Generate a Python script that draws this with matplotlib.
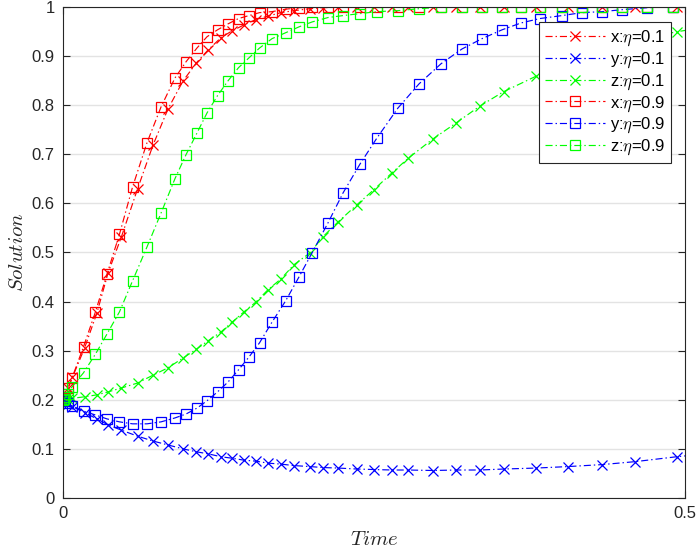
import matplotlib
matplotlib.use("Agg")
import matplotlib.pyplot as plt

plt.rcParams['font.family'] = ['Liberation Sans', 'DejaVu Sans']
plt.rcParams['mathtext.fontset'] = 'cm'

# time grid and solutions, eta = 0.1 (x markers)
t_eta01 = [0, 0.0008, 0.002, 0.004, 0.0076, 0.0173, 0.0273, 0.0362, 0.0470, 0.0599,
           0.0723, 0.0844, 0.0965, 0.1073, 0.1166, 0.1270, 0.1359, 0.1455, 0.1551, 0.1648,
           0.1752, 0.1857, 0.1985, 0.2090, 0.2211, 0.2363, 0.2496, 0.2645, 0.2777, 0.2974,
           0.3163, 0.3352, 0.3541, 0.3806, 0.4059, 0.4333, 0.4598, 0.4932, 0.5257]
x_eta01 = [0.2, 0.205, 0.212, 0.224, 0.246, 0.305, 0.377, 0.458, 0.532, 0.629,
           0.718, 0.792, 0.849, 0.886, 0.912, 0.937, 0.951, 0.963, 0.974, 0.981,
           0.988, 0.992, 0.996, 0.998, 0.999, 1.0, 1.0, 1.0, 1.0, 1.0,
           1.0, 1.0, 1.0, 1.0, 1.0, 1.0, 1.0, 1.0, 1.0]
y_eta01 = [0.2, 0.198, 0.196, 0.192, 0.186, 0.174, 0.161, 0.149, 0.138, 0.126,
           0.116, 0.108, 0.100, 0.094, 0.090, 0.084, 0.081, 0.077, 0.075, 0.071,
           0.069, 0.066, 0.064, 0.062, 0.061, 0.059, 0.058, 0.057, 0.057, 0.056,
           0.057, 0.057, 0.059, 0.061, 0.064, 0.068, 0.074, 0.084, 0.092]
z_eta01 = [0.2, 0.2, 0.201, 0.202, 0.203, 0.206, 0.210, 0.216, 0.224, 0.234,
           0.250, 0.265, 0.285, 0.303, 0.320, 0.338, 0.358, 0.379, 0.399, 0.424,
           0.446, 0.475, 0.499, 0.532, 0.562, 0.597, 0.627, 0.662, 0.692, 0.731,
           0.764, 0.798, 0.827, 0.859, 0.886, 0.910, 0.931, 0.949, 0.962]

# time grid and solutions, eta = 0.9 (square markers)
t_eta09 = [0, 0.0008, 0.002, 0.004, 0.0072, 0.0165, 0.0261, 0.0354, 0.0454, 0.0559,
           0.0675, 0.0788, 0.0900, 0.0989, 0.1077, 0.1158, 0.1242, 0.1326, 0.1411, 0.1495,
           0.1580, 0.1680, 0.1789, 0.1897, 0.2002, 0.2130, 0.2251, 0.2388, 0.2524, 0.2693,
           0.2862, 0.3039, 0.3207, 0.3368, 0.3529, 0.3682, 0.3834, 0.4011, 0.4172, 0.4333,
           0.4494, 0.4695, 0.4904, 0.5121]
x_eta09 = [0.2, 0.205, 0.212, 0.223, 0.244, 0.308, 0.379, 0.456, 0.537, 0.633,
           0.723, 0.796, 0.855, 0.888, 0.916, 0.939, 0.953, 0.965, 0.976, 0.982,
           0.988, 0.990, 0.995, 0.998, 0.999, 1.0, 1.0, 1.0, 1.0, 1.0,
           1.0, 1.0, 1.0, 1.0, 1.0, 1.0, 1.0, 1.0, 1.0, 1.0,
           1.0, 1.0, 1.0, 1.0]
y_eta09 = [0.2, 0.199, 0.197, 0.193, 0.188, 0.177, 0.169, 0.161, 0.155, 0.151,
           0.151, 0.155, 0.163, 0.171, 0.183, 0.198, 0.216, 0.236, 0.261, 0.287,
           0.316, 0.358, 0.401, 0.450, 0.499, 0.560, 0.621, 0.680, 0.733, 0.794,
           0.843, 0.884, 0.914, 0.935, 0.953, 0.967, 0.976, 0.982, 0.988, 0.990,
           0.994, 0.998, 1.0, 1.0]
z_eta09 = [0.2, 0.202, 0.205, 0.212, 0.226, 0.255, 0.293, 0.334, 0.379, 0.442,
           0.511, 0.580, 0.650, 0.699, 0.743, 0.784, 0.819, 0.849, 0.876, 0.896,
           0.916, 0.935, 0.947, 0.959, 0.969, 0.978, 0.982, 0.986, 0.990, 0.992,
           0.996, 0.999, 1.0, 1.0, 1.0, 1.0, 1.0, 1.0, 1.0, 1.0,
           1.0, 1.0, 1.0, 1.0]

labels = [r'x:$\eta$=0.1', r'y:$\eta$=0.1', r'z:$\eta$=0.1',
          r'x:$\eta$=0.9', r'y:$\eta$=0.9', r'z:$\eta$=0.9']
colors = ['#ff0000', '#0000ff', '#00ff00']

x_ticks = [0, 0.5]
x_ticklabels = ['0', '0.5']
y_ticks = [0, 0.1, 0.2, 0.3, 0.4, 0.5, 0.6, 0.7, 0.8, 0.9, 1.0]
y_ticklabels = ['0', '0.1', '0.2', '0.3', '0.4', '0.5', '0.6', '0.7', '0.8', '0.9', '1']

fig = plt.figure(figsize=(7.0, 5.52), dpi=100)
ax = fig.add_axes([0.09, 0.0978, 0.8886, 0.89])

ls = (0, (6, 2.5, 1.2, 2.5))
series = [(t_eta01, x_eta01, 'x'), (t_eta01, y_eta01, 'x'), (t_eta01, z_eta01, 'x'),
          (t_eta09, x_eta09, 's'), (t_eta09, y_eta09, 's'), (t_eta09, z_eta09, 's')]
for i, (tt, vv, mk) in enumerate(series):
    c = colors[i % 3]
    ax.plot(tt, vv, linestyle=ls, color=c, lw=0.85, marker=mk,
            markersize=7 if mk == 'x' else 6.5, markeredgewidth=0.9,
            markerfacecolor='none', markeredgecolor=c, label=labels[i])

ax.set_xlim(0, 0.5)
ax.set_ylim(0, 1)
ax.set_xticks(x_ticks)
ax.set_xticklabels(x_ticklabels)
ax.set_yticks(y_ticks)
ax.set_yticklabels(y_ticklabels)
ax.yaxis.grid(True, color='#e3e3e3', lw=1.0)
ax.set_axisbelow(True)
ax.tick_params(direction='in', length=5, width=0.8, labelsize=12,
               colors='#262626', right=True, top=True, pad=6)
for s in ax.spines.values():
    s.set_color('#262626')
    s.set_linewidth(0.8)

ax.set_xlabel(r'$Time$', fontsize=15, color='#262626', labelpad=6)
ax.set_ylabel(r'$Solution$', fontsize=15, color='#262626', labelpad=3)

leg = ax.legend(loc='upper right', bbox_to_anchor=(0.978, 0.968), fontsize=12,
                handlelength=3.6, handletextpad=0.3, labelspacing=0.15,
                borderpad=0.35, borderaxespad=0.0, fancybox=False, framealpha=1,
                edgecolor='#262626')
leg.get_frame().set_linewidth(0.8)

fig.savefig('out.png', dpi=100)
